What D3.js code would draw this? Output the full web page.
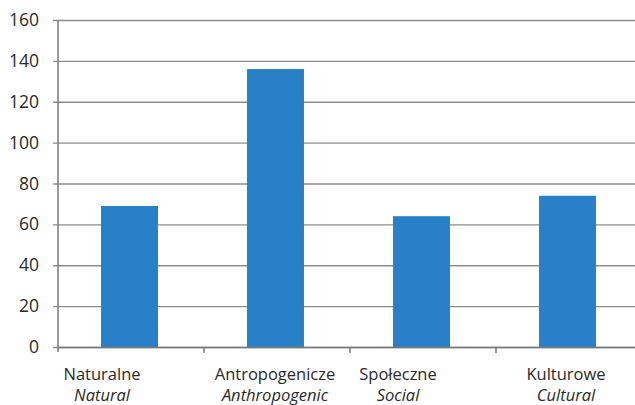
<!DOCTYPE html>
<html>
<head>
<meta charset="utf-8">
<script src="https://cdn.jsdelivr.net/npm/d3@7"></script>
<style>
  body { margin: 0; background: #fff; }
  svg { display: block; font-family: "Open Sans", sans-serif; }
</style>
</head>
<body>
<div id="chart"></div>
<script>
var categoriesPl = ['Naturalne', 'Antropogenicze', 'Społeczne', 'Kulturowe'],
    categoriesEn = ['Natural', 'Anthropogenic', 'Social', 'Cultural'],
    values = [69, 136, 64, 74],
    yTicks = [0, 20, 40, 60, 80, 100, 120, 140, 160]

// labels in the source are not quite centred under the bars
var labelShift = [-29, -2, -25, -3]

var width = 635, height = 405,
    margins = {top: 20, right: -7, bottom: 58, left: 58}

var colors = {
    bar: '#2880c8',
    grid: '#8c8c8c',
    axis: '#7a7a7a',
    text: '#2a2a2a'
}

var svg = d3.select('#chart').append('svg')
    .attr('width', width)
    .attr('height', height)

var x = d3.scaleBand()
    .domain(categoriesPl)
    .range([margins.left, width - margins.right])
    .padding(0)

var y = d3.scaleLinear()
    .domain([0, 160])
    .range([height - margins.bottom, margins.top])

// gridlines + y ticks
var yAxis = d3.axisLeft(y)
    .tickValues(yTicks)
    .tickSize(-(width - margins.right - margins.left) - 5)
    .tickPadding(14)

var gy = svg.append('g')
    .attr('transform', 'translate(' + (margins.left - 5) + ',0)')
    .call(yAxis)

gy.select('.domain').remove()
gy.selectAll('.tick line')
    .attr('stroke', colors.grid)
    .attr('stroke-width', 1.4)
gy.selectAll('.tick text')
    .attr('fill', colors.text)
    .style('font-size', '17.5px')
    .style('font-family', '"Open Sans", sans-serif')

// bars
var barW = x.bandwidth() * 0.39

svg.append('g').selectAll('rect')
    .data(values)
    .enter().append('rect')
    .attr('x', function (d, i) { return x(categoriesPl[i]) + x.bandwidth() / 2 - barW / 2 - 1.5 })
    .attr('y', function (d) { return y(d) })
    .attr('width', barW)
    .attr('height', function (d) { return y(0) - y(d) })
    .attr('fill', colors.bar)

// y axis line
svg.append('line')
    .attr('x1', margins.left).attr('x2', margins.left)
    .attr('y1', y(160)).attr('y2', y(0) + 5)
    .attr('stroke', colors.axis)
    .attr('stroke-width', 1.5)

// x axis
var xAxis = d3.axisBottom(x)
    .tickValues([])
    .tickSizeOuter(0)

var gx = svg.append('g')
    .attr('transform', 'translate(0,' + y(0) + ')')
    .call(xAxis)

gx.select('.domain')
    .attr('stroke', colors.axis)
    .attr('stroke-width', 1.5)

gx.selectAll('line.sep')
    .data(categoriesPl.slice(1))
    .enter().append('line')
    .attr('class', 'sep')
    .attr('x1', function (d) { return x(d) })
    .attr('x2', function (d) { return x(d) })
    .attr('y1', 0).attr('y2', 6)
    .attr('stroke', colors.axis)
    .attr('stroke-width', 1.5)

var labels = svg.append('g').selectAll('text')
    .data(categoriesPl)
    .enter().append('text')
    .attr('text-anchor', 'middle')
    .attr('fill', colors.text)
    .style('font-size', '16.5px')
    .attr('transform', function (d, i) {
        return 'translate(' + (x(d) + x.bandwidth() / 2 + labelShift[i]) + ',' + (y(0) + 33) + ')'
    })

labels.append('tspan')
    .attr('x', 0)
    .text(function (d) { return d })

labels.append('tspan')
    .attr('x', 0)
    .attr('dy', 21)
    .style('font-style', 'italic')
    .text(function (d, i) { return categoriesEn[i] })
</script>
</body>
</html>
